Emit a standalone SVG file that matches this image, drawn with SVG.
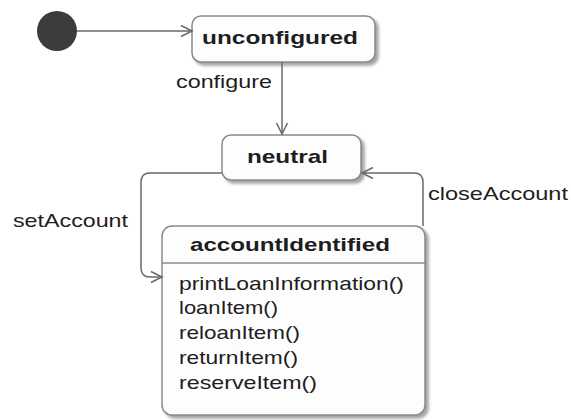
<svg xmlns="http://www.w3.org/2000/svg" width="571" height="420" viewBox="0 0 571 420">
<style>
.state{fill:#fdfdfd;stroke:#8a8a8a;stroke-width:1.5}
.conn{fill:none;stroke:#6a6a6a;stroke-width:1.5}
.t{font-family:"Liberation Sans",Arial,sans-serif;fill:#1e1e1e}
.b{font-weight:bold;font-size:19px}
.r{font-size:19px}
</style>
<defs>
<filter id="sh" x="-10%" y="-10%" width="130%" height="130%">
<feDropShadow dx="3" dy="3" stdDeviation="1.5" flood-color="#8c8c8c" flood-opacity="0.8"/>
</filter>
<marker id="arr" markerUnits="userSpaceOnUse" markerWidth="14" markerHeight="14" viewBox="0 0 14 14" refX="12" refY="7" orient="auto">
<path d="M1,1.5 L12,7 L1,12.5" fill="none" stroke="#6a6a6a" stroke-width="1.5"/>
</marker>
</defs>
<g id="initial">
<circle cx="57" cy="31" r="20" fill="#3c3c3c"/>
</g>
<g id="unconfigured">
<rect class="state" x="192" y="16" width="183" height="46" rx="9" filter="url(#sh)"/>
<text class="t b" x="202" y="44" textLength="156" lengthAdjust="spacingAndGlyphs">unconfigured</text>
</g>
<g id="neutral">
<rect class="state" x="222" y="135" width="139" height="45" rx="9" filter="url(#sh)"/>
<text class="t b" x="247" y="163" textLength="81" lengthAdjust="spacingAndGlyphs">neutral</text>
</g>
<g id="accountIdentified">
<rect class="state" x="162" y="226" width="263" height="189" rx="10" filter="url(#sh)"/>
<line x1="162" y1="263" x2="425" y2="263" stroke="#8a8a8a" stroke-width="1.5"/>
<text class="t b" x="190" y="251" textLength="200" lengthAdjust="spacingAndGlyphs">accountIdentified</text>
<text class="t r" x="179" y="290" textLength="225" lengthAdjust="spacingAndGlyphs">printLoanInformation()</text>
<text class="t r" x="179" y="314" textLength="99" lengthAdjust="spacingAndGlyphs">loanItem()</text>
<text class="t r" x="179" y="339" textLength="121" lengthAdjust="spacingAndGlyphs">reloanItem()</text>
<text class="t r" x="179" y="364" textLength="119" lengthAdjust="spacingAndGlyphs">returnItem()</text>
<text class="t r" x="179" y="389" textLength="138" lengthAdjust="spacingAndGlyphs">reserveItem()</text>
</g>
<g id="connectors">
<path class="conn" d="M77,31 H192" marker-end="url(#arr)"/>
<path class="conn" d="M282,62 V134" marker-end="url(#arr)"/>
<text class="t r" x="176" y="88" textLength="96" lengthAdjust="spacingAndGlyphs">configure</text>
<path class="conn" d="M222,173 H150 Q141,173 141,182 V268 Q141,277 150,277 H162" marker-end="url(#arr)"/>
<text class="t r" x="13" y="227" textLength="115" lengthAdjust="spacingAndGlyphs">setAccount</text>
<path class="conn" d="M423,226 V182 Q423,173 414,173 H362" marker-end="url(#arr)"/>
<text class="t r" x="428" y="200" textLength="140" lengthAdjust="spacingAndGlyphs">closeAccount</text>
</g>
</svg>
